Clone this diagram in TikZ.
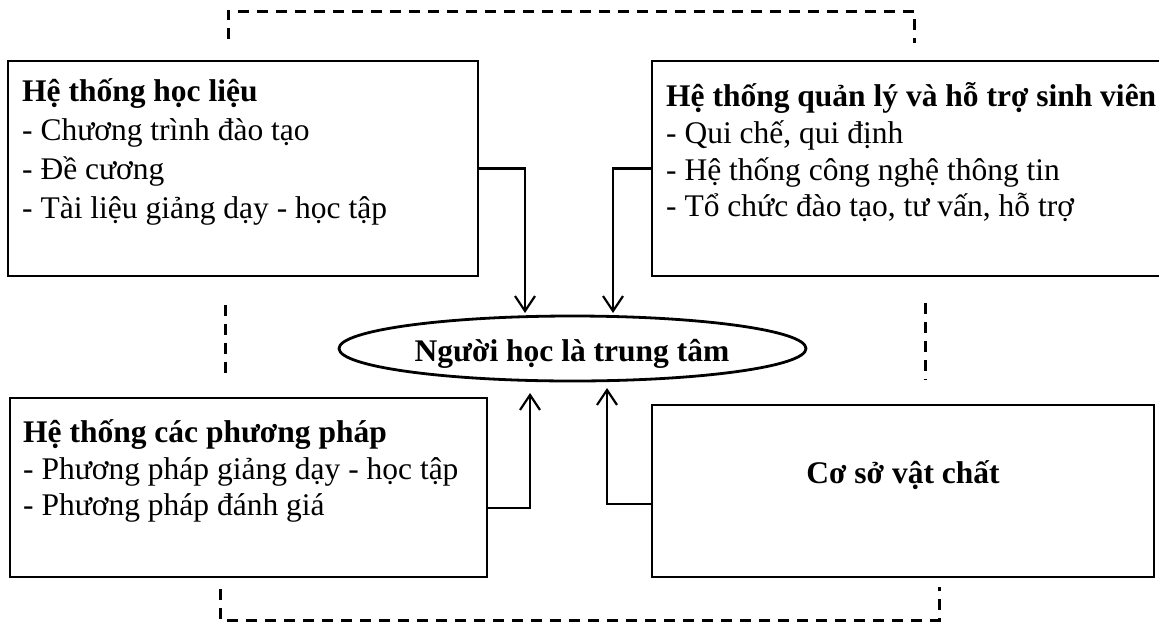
\documentclass[tikz,border=0pt]{standalone}
\usepackage{fontspec}
\setmainfont{Liberation Serif}
\usetikzlibrary{arrows.meta,shapes.geometric,calc}

\tikzset{
  panel/.style={draw, rectangle, line width=2.2pt, inner sep=0pt, outer sep=0pt},
  hub/.style={draw, ellipse, line width=2.8pt, inner sep=0pt, outer sep=0pt},
  txt/.style={anchor=base west, inner sep=0pt, font=\fontsize{31.5}{37}\selectfont},
  ttl/.style={anchor=base west, inner sep=0pt, font=\fontsize{31.5}{37}\selectfont\bfseries},
  ctxt/.style={anchor=base, inner sep=0pt, font=\fontsize{31.5}{37}\selectfont\bfseries},
  link/.style={line width=2.2pt, -{Straight Barb[length=15pt,width=20pt,line width=2.2pt]}},
  loopline/.style={line width=3pt, dash pattern=on 11pt off 8pt}
}

\begin{document}
\begin{tikzpicture}[x=1pt,y=-1pt]
\useasboundingbox (0,0) rectangle (1159,622);
\clip (0,0) rectangle (1159,622);

% four component boxes and the central ellipse
\node[panel, minimum width=470pt, minimum height=215pt] (hl) at (243,168.5) {};
\node[panel, minimum width=528pt, minimum height=215pt] (ql) at (916,168.5) {};
\node[panel, minimum width=477pt, minimum height=179pt] (pp) at (248.5,487.5) {};
\node[panel, minimum width=502pt, minimum height=172pt] (cs) at (903,491) {};
\node[hub, minimum width=467pt, minimum height=65pt] (ctr) at (572.5,348.5) {};

% box texts
\node[ttl] (hl-t) at (22,101) {Hệ thống học liệu};
\node[txt] (hl-1) at (22,140) {- Chương trình đào tạo};
\node[txt] (hl-2) at (22,179) {- Đề cương};
\node[txt] (hl-3) at (22,218) {- Tài liệu giảng dạy - học tập};

\node[ttl] (ql-t) at (666,106) {Hệ thống quản lý và hỗ trợ sinh viên};
\node[txt] (ql-1) at (666,143) {- Qui chế, qui định};
\node[txt] (ql-2) at (666,180) {- Hệ thống công nghệ thông tin};
\node[txt] (ql-3) at (666,216) {- Tổ chức đào tạo, tư vấn, hỗ trợ};

\node[ttl] (pp-t) at (23,442) {Hệ thống các phương pháp};
\node[txt] (pp-1) at (23,479) {- Phương pháp giảng dạy - học tập};
\node[txt] (pp-2) at (23,515) {- Phương pháp đánh giá};

\node[ctxt] (cs-t) at ([yshift=8pt]cs.center) {Cơ sở vật chất};
\node[ctxt] (ctr-t) at (572,361) {Người học là trung tâm};

% arrows into the centre
\draw[link] (hl.east) -| ([xshift=-47.5pt,yshift=3pt]ctr.north);
\draw[link] (ql.west) -| ([xshift=40.5pt,yshift=3pt]ctr.north);
\draw[link] ([yshift=-20.5pt]pp.east) -| ([xshift=-42.5pt,yshift=-12pt]ctr.south);
\draw[link] ([yshift=-13pt]cs.west) -| ([xshift=34.5pt,yshift=-7pt]ctr.south);

% dashed frame segments
\coordinate (tl) at (228,39);
\coordinate (tr) at (914,43);
\coordinate (topy) at (0,11);
\draw[loopline] (tl) |- (tr |- topy) -- (tr);
\coordinate (ml1) at (225,305);
\coordinate (ml2) at (225,373);
\draw[loopline] (ml1) -- (ml2);
\coordinate (mr1) at (925,303);
\coordinate (mr2) at (925,380);
\draw[loopline] (mr1) -- (mr2);
\coordinate (bl) at (220,589);
\coordinate (br) at (939,587);
\coordinate (boty) at (0,620);
\draw[loopline] (bl) |- (br |- boty) -- (br);
\end{tikzpicture}
\end{document}
